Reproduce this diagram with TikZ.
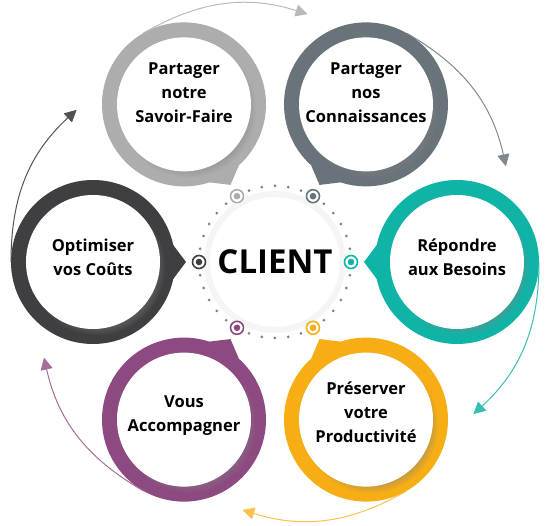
\documentclass[tikz,border=0pt]{standalone}
\usepackage{fontspec}
\setmainfont{Open Sans}
\usetikzlibrary{arrows.meta,shadows}
\definecolor{grisclair}{HTML}{ADADAD}
\definecolor{ardoise}{HTML}{69747A}
\definecolor{turquoise}{HTML}{10B4A7}
\definecolor{ambre}{HTML}{F6AE14}
\definecolor{prune}{HTML}{8D4A80}
\definecolor{anthracite}{HTML}{3F3F41}
\begin{document}
\begin{tikzpicture}[x=1pt,y=1pt,
  ring/.style={circle,fill=#1,minimum size=164pt,inner sep=0pt,outer sep=0pt},
  disc/.style={circle,fill=white,minimum size=134pt,inner sep=0pt,
    circular drop shadow={shadow xshift=4pt,shadow yshift=-5pt,shadow scale=1.02,opacity=.5}},
  libelle/.style={align=center,font=\fontsize{16.5}{24}\selectfont\bfseries},
  fleche/.style={draw=#1,line width=1pt,-{Triangle[length=12pt,width=12pt]}},
  pastille/.style={circle,draw=#1,line width=1.6pt,fill=white,minimum size=13pt,inner sep=0pt,
    path picture={\fill[#1] (path picture bounding box.center) circle (3.3pt);}}]
  \useasboundingbox (-275,-264) rectangle (285,262);
  % arrows round the cycle
  \coordinate (vconn) at (82.5:250);
  \coordinate (vbes) at (22.5:250);
  \coordinate (vprod) at (-37.5:250);
  \coordinate (vacc) at (-97.5:250);
  \coordinate (vcout) at (-157.5:250);
  \coordinate (vsav) at (142.5:250);
  % the six circles
  \node[ring=grisclair] (savoir) at (120:182) {};
  \node[ring=ardoise] (connaissances) at (60:182) {};
  \node[ring=turquoise] (besoins) at (0:182) {};
  \node[ring=ambre] (productivite) at (-60:182) {};
  \node[ring=prune] (accompagner) at (-120:182) {};
  \node[ring=anthracite] (couts) at (180:182) {};
  \draw[fleche=grisclair!85] (savoir.120) to[out=30,in=162.5] (vconn);
  \draw[fleche=ardoise!85] (connaissances.60) to[out=-30,in=102.5] (vbes);
  \draw[fleche=turquoise!85] (besoins.0) to[out=-90,in=42.5] (vprod);
  \draw[fleche=ambre!75] (productivite.-60) to[out=-150,in=-17.5] (vacc);
  \draw[fleche=prune!80] (accompagner.-120) to[out=150,in=-77.5] (vcout);
  \draw[fleche=anthracite!90] (couts.180) to[out=90,in=222.5] (vsav);
  \fill[grisclair] (savoir.288) -- (120:89) -- (savoir.312) -- cycle;
  \fill[ardoise] (connaissances.228) -- (60:89) -- (connaissances.252) -- cycle;
  \fill[turquoise] (besoins.168) -- (0:89) -- (besoins.192) -- cycle;
  \fill[ambre] (productivite.108) -- (-60:89) -- (productivite.132) -- cycle;
  \fill[prune] (accompagner.48) -- (-120:89) -- (accompagner.72) -- cycle;
  \fill[anthracite] (couts.-12) -- (180:89) -- (couts.12) -- cycle;
  \node[disc] at (savoir) {};
  \node[disc] at (connaissances) {};
  \node[disc] at (besoins) {};
  \node[disc] at (productivite) {};
  \node[disc] at (accompagner) {};
  \node[disc] at (couts) {};
  \node[libelle,yshift=12pt] at (savoir) {Partager\\notre\\Savoir-Faire};
  \node[libelle,yshift=12pt] at (connaissances) {Partager\\nos\\Connaissances};
  \node[libelle,yshift=5pt] at (besoins) {Répondre\\aux Besoins};
  \node[libelle,yshift=7pt] at (productivite) {Préserver\\votre\\Productivité};
  \node[libelle,yshift=4pt] at (accompagner) {Vous\\Accompagner};
  \node[libelle,yshift=5pt] at (couts) {Optimiser\\vos Coûts};
  % centre
  \node[font=\fontsize{33}{33}\selectfont\bfseries] (client) at (0,0) {CLIENT};
  \draw[black!4,line width=6pt] (client.center) circle (68pt);
  \draw[black!50,line width=3pt,line cap=round,dash pattern=on 0pt off 13.2645pt] (client.center) circle (76pt);
  \node[pastille=grisclair] (psavoir) at (120:76) {};
  \node[pastille=ardoise] (pconn) at (60:76) {};
  \node[pastille=turquoise] (pbes) at (0:76) {};
  \node[pastille=ambre] (pprod) at (-60:76) {};
  \node[pastille=prune] (pacc) at (-120:76) {};
  \node[pastille=anthracite] (pcout) at (180:76) {};
\end{tikzpicture}
\end{document}
